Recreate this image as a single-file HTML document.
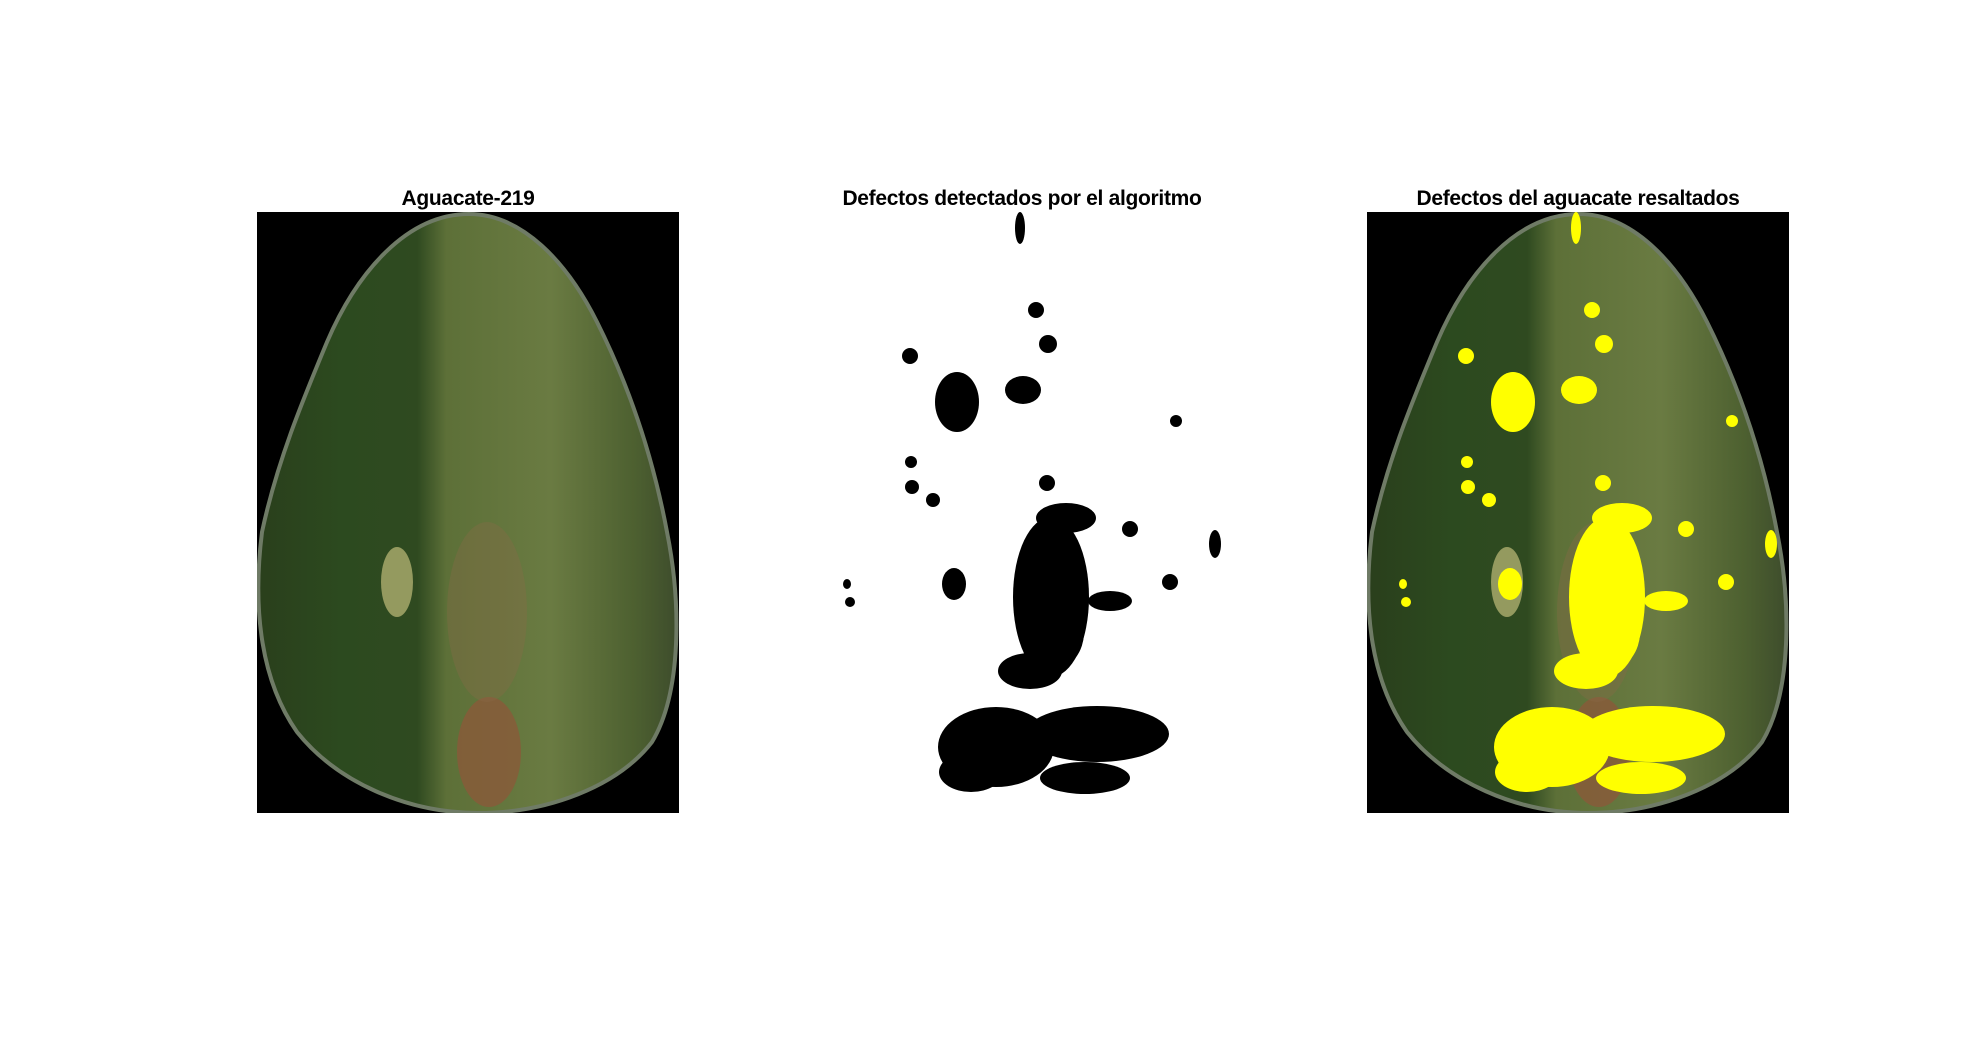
<!DOCTYPE html>
<html><head><meta charset="utf-8">
<style>
body{margin:0;background:#fff;width:1976px;height:1062px;overflow:hidden;font-family:"Liberation Sans",sans-serif;}
.title{position:absolute;font-weight:bold;font-size:21px;color:#000;text-align:center;width:600px;top:187px;letter-spacing:-0.3px;}
svg{position:absolute;}
</style></head><body>
<div class="title" style="left:168px">Aguacate-219</div>
<div class="title" style="left:722px">Defectos detectados por el algoritmo</div>
<div class="title" style="left:1278px">Defectos del aguacate resaltados</div>

<svg id="p1" style="left:257px;top:212px" width="422" height="601" viewBox="0 0 422 601"></svg>
<svg id="p2" style="left:811px;top:212px" width="422" height="601" viewBox="0 0 422 601"></svg>
<svg id="p3" style="left:1367px;top:212px" width="422" height="601" viewBox="0 0 422 601"></svg>

<script>
// defect blobs: [cx, cy, rx, ry] in image coords
const blobCx = [209,225,237,99,146,212,365,101,122,236,240,255,143,319,404,299,359,185,286,274,160,219,39,36,100,245];
const blobCy = [16,98,132,144,190,178,209,275,288,271,385,306,372,317,332,389,370,535,522,566,560,459,390,372,250,420];
const blobRx = [5,8,9,8,22,18,6,7,7,8,38,30,12,8,6,22,8,58,72,45,32,32,5,4,6,28];
const blobRy = [16,8,9,8,30,14,6,7,7,8,80,15,16,8,14,10,8,40,28,16,20,18,5,5,6,36];

const NS='http://www.w3.org/2000/svg';
const egg="M212,2 C150,2 100,60 70,130 C45,190 20,250 5,320 C-5,400 5,470 40,520 C80,570 150,601 221,601 C290,601 360,575 395,530 C425,480 424,390 410,320 C395,240 370,170 340,110 C310,50 265,2 212,2 Z";
function mk(tag,attrs,parent){const e=document.createElementNS(NS,tag);for(const k in attrs)e.setAttribute(k,attrs[k]);parent.appendChild(e);return e;}
function avocado(svg,id){
  mk('rect',{x:0,y:0,width:422,height:601,fill:'#000'},svg);
  const defs=mk('defs',{},svg);
  const g=mk('linearGradient',{id:'g'+id,x1:0,y1:0,x2:1,y2:0},defs);
  [['0','#2a3f1c'],['0.2','#2c4a1f'],['0.38','#2f4a20'],['0.45','#5d7038'],['0.7','#6a7b42'],['0.9','#4d6030'],['1','#3e4d2c']].forEach(s=>mk('stop',{offset:s[0],'stop-color':s[1]},g));
  const p=mk('path',{d:egg,fill:'url(#g'+id+')',stroke:'#6f7b66','stroke-width':4},svg);
  
  
  mk('ellipse',{cx:232,cy:540,rx:32,ry:55,fill:'#8a5a3a',opacity:0.8},svg);
  mk('ellipse',{cx:230,cy:400,rx:40,ry:90,fill:'#8a6a48',opacity:0.35},svg);
  mk('ellipse',{cx:140,cy:370,rx:16,ry:35,fill:'#d8d08a',opacity:0.6},svg);
}
function blobs(svg,color){
  for(let i=0;i<blobCx.length;i++){
    const e=mk('ellipse',{cx:blobCx[i],cy:blobCy[i],rx:blobRx[i],ry:blobRy[i],fill:color},svg);
    
    
  }
}
const p1=document.getElementById('p1'),p2=document.getElementById('p2'),p3=document.getElementById('p3');
avocado(p1,1);
mk('rect',{x:0,y:0,width:422,height:601,fill:'#fff'},p2);
blobs(p2,'#000');
avocado(p3,3);
blobs(p3,'#ffff00');
</script>
</body></html>
